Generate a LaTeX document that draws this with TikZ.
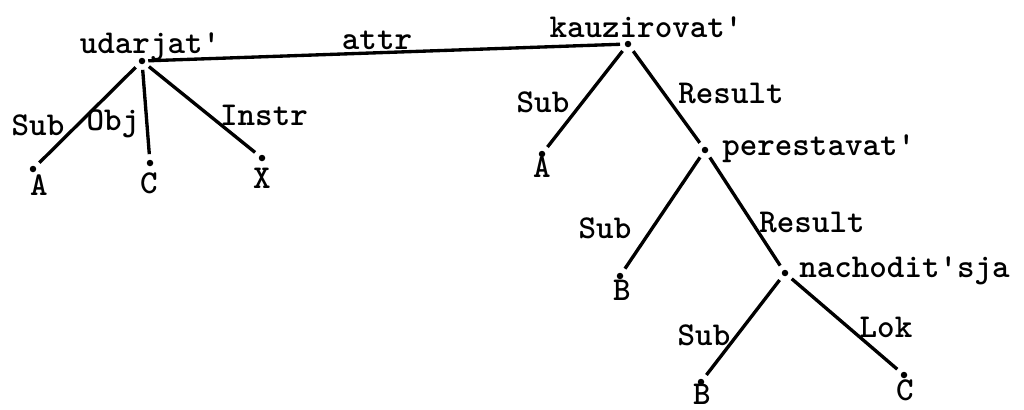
\documentclass[tikz,border=0pt]{standalone}
\begin{document}
\begin{tikzpicture}[x=0.02cm,y=-0.02cm,
  lbl/.style={font=\ttfamily\bfseries\fontsize{19}{20}\selectfont, anchor=base, inner sep=0pt},
  lblw/.style={lbl, anchor=base west},
  dot/.style={circle, fill=black, inner sep=0pt, minimum size=0.13cm},
  edge/.style={line width=1.9pt, shorten <=3pt, shorten >=3pt},
  attredge/.style={line width=1.9pt, shorten <=1.5pt, shorten >=2.5pt}]
\useasboundingbox (0,0) rectangle (1024,409);
% dots
\node[dot] (u) at (142,61) {};
\node[dot] (uA) at (33,169) {};
\node[dot] (uC) at (150,163) {};
\node[dot] (uX) at (262,158) {};
\node[dot] (k) at (628,44) {};
\node[dot] (kA) at (542,154) {};
\node[dot] (p) at (705,150) {};
\node[dot] (pB) at (620,276) {};
\node[dot] (n) at (785,273) {};
\node[dot] (nB) at (701,382) {};
\node[dot] (nC) at (904,375) {};
% edges
\draw[attredge] (u) -- (k);
\draw[edge] (u) -- (uA);
\draw[edge] (u) -- (uC);
\draw[edge] (u) -- (uX);
\draw[edge] (k) -- (kA);
\draw[edge] (k) -- (p);
\draw[edge] (p) -- (pB);
\draw[edge] (p) -- (n);
\draw[edge] (n) -- (nB);
\draw[edge] (n) -- (nC);
% node labels
\node[lbl] (tu) at (150,53) {udarjat\textquotesingle};
\node[lbl] (tk) at (646,37) {kauzirovat\textquotesingle};
\node[lblw] (tp) at (722,155) {perestavat\textquotesingle};
\node[lblw] (tn) at (799,277) {nachodit\textquotesingle sja};
\node[lbl] (tuA) at (39,195) {A};
\node[lbl] (tuC) at (149,193) {C};
\node[lbl] (tuX) at (262,188) {X};
\node[lbl] (tkA) at (542,177) {A};
\node[lbl] (tpB) at (622,300) {B};
\node[lbl] (tnB) at (702,404) {B};
\node[lbl] (tnC) at (905,400) {C};
% edge labels
\node[lbl] (l1) at (377,50) {attr};
\node[lbl] (l2) at (38,135) {Sub};
\node[lbl] (l3) at (113,130) {Obj};
\node[lbl] (l4) at (264,125) {Instr};
\node[lbl] (l5) at (543,112) {Sub};
\node[lbl] (l6) at (731,103) {Result};
\node[lbl] (l7) at (605,238) {Sub};
\node[lbl] (l8) at (812,232) {Result};
\node[lbl] (l9) at (704,345) {Sub};
\node[lbl] (l10) at (886,337) {Lok};
\end{tikzpicture}
\end{document}
